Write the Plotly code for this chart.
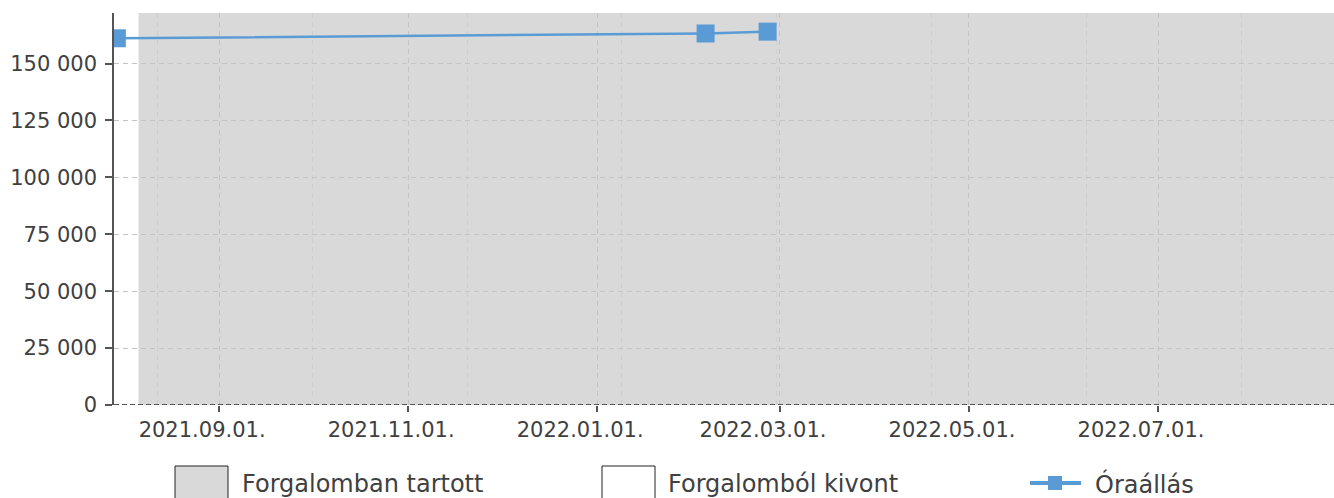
import plotly.graph_objects as go

# ---- data ----
reading_dates = ["2021-07-30", "2022-02-05", "2022-02-25"]
reading_values = [161100, 163200, 164000]

status_names = ["Forgalomban tartott", "Forgalomból kivont"]
in_service_periods = [("2021-08-06", "2022-08-31")]
withdrawn_periods = []

series_name = "Óraállás"
y_ticks = [0, 25000, 50000, 75000, 100000, 125000, 150000]

# ---- layout constants ----
W, H = 1334, 498
PL, PT, PB = 114, 13, 405          # plot edges in page pixels
ML, MT, MR, MB = PL, PT, 0, H - PB
PW, PH = W - ML - MR, H - MT - MB
FONT = "DejaVu Sans"
TXT = "#404040"
BLUE = "#5b9bd5"
GREY = "#d9d9d9"


def px(x):
    return (x - PL) / PW


def py(y):
    return (PB - y) / PH


fig = go.Figure()

fig.add_trace(go.Scatter(
    x=reading_dates, y=reading_values, mode="lines+markers", name=series_name,
    line=dict(color=BLUE, width=2.5),
    marker=dict(symbol="square", size=18, color=BLUE),
    showlegend=False,
))

shapes = []
for s, e in in_service_periods:
    shapes.append(dict(type="rect", xref="x", yref="paper", x0=s, x1=e, y0=0, y1=1,
                       fillcolor=GREY, line=dict(width=0), layer="below"))
for s, e in withdrawn_periods:
    shapes.append(dict(type="rect", xref="x", yref="paper", x0=s, x1=e, y0=0, y1=1,
                       fillcolor="white", line=dict(width=0), layer="below"))

# bottom dashed baseline
shapes.append(dict(type="line", xref="paper", yref="y", x0=0, x1=1, y0=0, y1=0,
                   line=dict(color="#555555", width=2, dash="5px,3px"), layer="above"))

# manual legend
annotations = []
leg_y_top, leg_y_bot, leg_text_y = 466, 505, 484
LEG_SIZE = 24
boxes = [(175, GREY, status_names[0], 241), (602, "white", status_names[1], 667)]
for x0, col, name, tx in boxes:
    shapes.append(dict(type="rect", xref="paper", yref="paper",
                       x0=px(x0), x1=px(x0 + 53), y0=py(leg_y_bot), y1=py(leg_y_top),
                       fillcolor=col, line=dict(color="#222222", width=1)))
    annotations.append(dict(xref="paper", yref="paper", x=px(tx), y=py(leg_text_y),
                            text=name, showarrow=False, xanchor="left", yanchor="middle",
                            borderpad=0,
                            font=dict(family=FONT, size=LEG_SIZE, color=TXT)))
shapes.append(dict(type="line", xref="paper", yref="paper", x0=px(1030), x1=px(1081),
                   y0=py(483), y1=py(483), line=dict(color=BLUE, width=4)))
shapes.append(dict(type="rect", xref="paper", yref="paper", x0=px(1048), x1=px(1062),
                   y0=py(490), y1=py(476), fillcolor=BLUE, line=dict(width=0)))
annotations.append(dict(xref="paper", yref="paper", x=px(1094), y=py(leg_text_y),
                        text=series_name, showarrow=False, xanchor="left", yanchor="middle",
                        borderpad=0,
                        font=dict(family=FONT, size=LEG_SIZE, color=TXT)))

fig.update_layout(
    width=W, height=H,
    margin=dict(l=ML, r=MR, t=MT, b=MB),
    paper_bgcolor="white", plot_bgcolor="white",
    separators=", ",
    font=dict(family=FONT, size=21, color=TXT),
    shapes=shapes, annotations=annotations,
    showlegend=False,
)

fig.update_xaxes(
    type="date",
    range=["2021-07-29 02:00", "2022-08-26 19:00"],
    tick0="2021-09-01", dtick="M2", tickformat="%Y.%m.%d.",
    ticks="outside", ticklen=6, tickcolor="#555555", tickwidth=1.5,
    showgrid=True, gridcolor="#c4c4c4", griddash="5px,4px", gridwidth=1,
    showline=False, zeroline=False,
    ticklabelshift=-17,
    tickfont=dict(family=FONT, size=21, color=TXT),
    minor=dict(tick0="2021-08-12", dtick=50 * 86400000, showgrid=True,
               gridcolor="#cfcfcf", griddash="5px,4px", ticks=""),
)

fig.update_yaxes(
    range=[0, 172200],
    tickvals=y_ticks, tickformat=",d",
    ticks="outside", ticklen=7, tickcolor="#555555", tickwidth=1.5,
    showline=True, linecolor="#555555", linewidth=1.5,
    showgrid=True, gridcolor="#c4c4c4", griddash="5px,4px", gridwidth=1,
    zeroline=False, ticklabelstandoff=4,
    tickfont=dict(family=FONT, size=21, color=TXT),
)

fig.write_html(
    "out.html",
    config={"displayModeBar": False},
    post_script="document.body.style.margin='0';document.documentElement.style.overflow='hidden';",
)
